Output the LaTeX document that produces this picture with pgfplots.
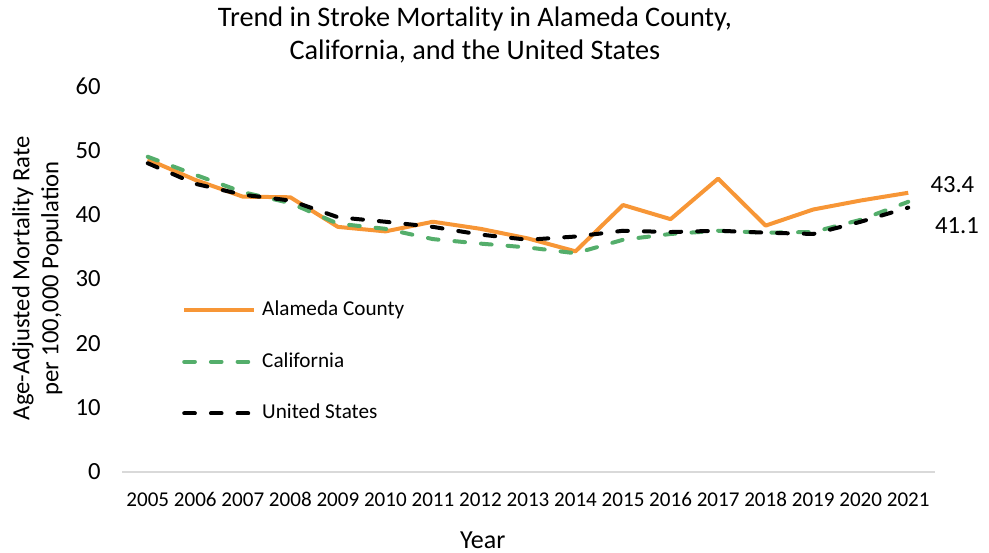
\documentclass[border=0pt]{standalone}
\usepackage{fontspec}
\setmainfont{Carlito}
\usepackage{pgfplots}
\pgfplotsset{compat=1.18}
\definecolor{alam}{RGB}{247,150,54}
\definecolor{cali}{RGB}{84,174,107}
\definecolor{axgray}{RGB}{217,217,217}
\begin{document}
\begin{tikzpicture}
\path[use as bounding box] (0,0) rectangle (741.75pt,414.75pt);
\begin{axis}[
  at={(93pt,60.75pt)}, anchor=south west,
  scale only axis, width=606pt, height=289.5pt,
  xmin=-0.5, xmax=16.5, ymin=0, ymax=60,
  xtick={0,...,16},
  xticklabels={2005,2006,2007,2008,2009,2010,2011,2012,2013,2014,2015,2016,2017,2018,2019,2020,2021},
  ytick={0,10,...,60},
  major tick length=0pt,
  /pgf/number format/assume math mode=true,
  axis lines*=left,
  y axis line style={draw=none},
  x axis line style={draw=axgray, line width=1.2pt, shorten <=-1.5pt, shorten >=-2.5pt},
  xticklabel style={font=\fontsize{15.8}{18}\selectfont, yshift=-11.25pt, text height=11pt, text depth=1pt},
  yticklabel style={font=\fontsize{18.5}{22}\selectfont, xshift=-14pt},
  clip=false,
  legend style={draw=none, fill=none, at={(0.0668,0.458)}, anchor=north west,
    font=\fontsize{15.9}{18}\selectfont, row sep=20.75pt,
    nodes={text height=11pt, text depth=3pt, inner sep=2pt}},
  legend cell align=left,
  legend image code/.code={\draw[#1] (0pt,0pt) -- (52.5pt,0pt);},
  /tikz/every even column/.append style={column sep=0pt},
  /tikz/every odd column/.append style={column sep=2.5pt},
]
\addplot[alam, line width=3pt, line join=round] coordinates {
(0,48.6) (1,45.4) (2,42.8) (3,42.7) (4,38.1) (5,37.4) (6,38.9) (7,37.8) (8,36.3) (9,34.3) (10,41.5) (11,39.3) (12,45.6) (13,38.3) (14,40.8) (15,42.2) (16,43.4)};
\addlegendentry{Alameda County}
\addplot[cali, line width=3pt, line cap=round, dash pattern=on 8pt off 12pt] coordinates {
(0,49.0) (1,46.2) (2,43.5) (3,41.8) (4,38.6) (5,37.8) (6,36.2) (7,35.5) (8,34.9) (9,34.0) (10,36.1) (11,37.0) (12,37.5) (13,37.2) (14,37.3) (15,39.2) (16,42.0)};
\addlegendentry{California}
\addplot[black, line width=3pt, line cap=round, dash pattern=on 8pt off 12pt] coordinates {
(0,48.0) (1,44.8) (2,43.1) (3,42.2) (4,39.6) (5,38.9) (6,38.1) (7,36.9) (8,36.1) (9,36.6) (10,37.5) (11,37.3) (12,37.5) (13,37.2) (14,37.0) (15,38.9) (16,41.1)};
\addlegendentry{United States}
\node[anchor=west, font=\fontsize{18.5}{22}\selectfont, inner sep=0pt] at ([xshift=16.5pt, yshift=6pt]axis cs:16,43.4) {43.4};
\node[anchor=west, font=\fontsize{18.5}{22}\selectfont, inner sep=0pt] at ([xshift=20pt, yshift=-13.5pt]axis cs:16,41.1) {41.1};
\end{axis}
\node[align=center, font=\fontsize{21.2}{25}\selectfont, inner sep=0pt] at (356.25pt,388.5pt) {Trend in Stroke Mortality in Alameda County,\\California, and the United States};
\node[rotate=90, align=center, font=\fontsize{18.5}{21.75}\selectfont, inner sep=0pt] at (28pt,206pt) {Age-Adjusted Mortality Rate\\per 100,000 Population};
\node[font=\fontsize{19.5}{22}\selectfont, inner sep=0pt] at (362pt,9.75pt) {Year};
\end{tikzpicture}
\end{document}
